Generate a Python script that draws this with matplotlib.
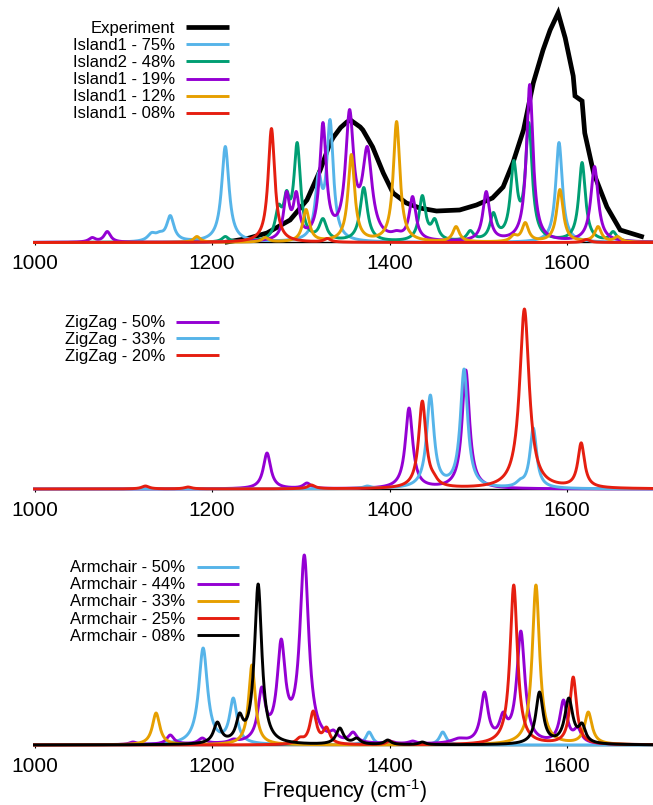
import numpy as np
import matplotlib
matplotlib.use("Agg")
import matplotlib.pyplot as plt
from matplotlib.lines import Line2D

plt.rcParams['font.family'] = ['Liberation Sans', 'DejaVu Sans']
plt.rcParams['mathtext.fontset'] = 'custom'
plt.rcParams['mathtext.rm'] = 'Liberation Sans'
plt.rcParams['mathtext.it'] = 'Liberation Sans:italic'
plt.rcParams['mathtext.bf'] = 'Liberation Sans:bold'

# ---------------- data ----------------
# Experiment spectrum (frequency, intensity)
exp_freq = [1217, 1240, 1262, 1288, 1307, 1322, 1333, 1337, 1345, 1352, 1356, 1367, 1370,
            1381, 1393, 1404, 1419, 1434, 1453, 1479, 1498, 1516, 1528, 1539, 1551, 1562,
            1573, 1581, 1590, 1598, 1607, 1609, 1617, 1620, 1630, 1645, 1660, 1684]
exp_int = [0.5, 4, 9.5, 22.5, 42.5, 72.5, 99.5, 105.5, 115, 120.5, 122.5, 115.5, 112.5,
           95.5, 69.5, 49.5, 39.5, 34.5, 31.5, 32.5, 37.5, 44.5, 55.5, 79.5, 112.5, 159.5,
           192.5, 212.5, 229.5, 204.5, 166.5, 146.5, 141.5, 109.5, 69.5, 35.5, 12.5, 6]

# Panel 1 peaks: centers, observed heights, widths (FWHM)
isl1_75_c = [1132, 1141, 1153, 1215, 1320, 1333, 1591]
isl1_75_h = [10, 11, 27, 96, 70, 123, 100]
isl1_75_w = [11, 11, 10, 10, 9, 9, 9]

isl2_48_c = [1215, 1275, 1284, 1296, 1325, 1371, 1437, 1451, 1491, 1517, 1540, 1557, 1617, 1652]
isl2_48_h = [6, 38, 52, 100, 24, 55, 47, 24, 12, 30, 82, 120, 80, 11]
isl2_48_w = [9, 9, 8, 9, 10, 10, 9, 9, 9, 9, 9, 9, 9, 9]

isl1_19_c = [1065, 1082, 1284, 1295, 1325, 1355, 1375, 1408, 1426, 1509, 1558, 1631]
isl1_19_h = [5, 11, 51, 51, 120, 133, 96, 12, 46, 51, 158, 76]
isl1_19_w = [9, 9, 8, 8, 9, 11, 13, 13, 9, 9, 9, 10]

isl1_12_c = [1183, 1260, 1306, 1357, 1408, 1475, 1540, 1553, 1592, 1635, 1657]
isl1_12_h = [6, 5, 33, 88, 121, 16, 8, 20, 53, 16, 6]
isl1_12_w = [9, 9, 9, 9, 9, 9, 9, 9, 9, 9, 9]

isl1_08_c = [1267, 1330, 1622]
isl1_08_h = [114, 4, 3]
isl1_08_w = [9, 9, 9]

# Panel 2 peaks
zz50_c = [1262, 1307, 1422, 1486]
zz50_h = [36, 6, 81, 119]
zz50_w = [10, 10, 10, 10]

zz33_c = [1375, 1446, 1484, 1547, 1562]
zz33_h = [3, 94, 120, 10, 61]
zz33_w = [10, 10, 10, 10, 9]

zz20_c = [1125, 1173, 1312, 1437, 1450, 1552, 1616, 1626]
zz20_h = [3, 2, 4, 88, 16, 180, 46, 8]
zz20_w = [10, 10, 10, 10, 10, 13, 9, 10]

# Panel 3 peaks
ac50_c = [1190, 1224, 1377, 1460]
ac50_h = [97, 47, 13, 13]
ac50_w = [12, 10, 9, 9]

ac44_c = [1111, 1153, 1189, 1224, 1256, 1278, 1304, 1337, 1359, 1400, 1426, 1478, 1507, 1528, 1548, 1596, 1612]
ac44_h = [3, 10, 7, 6, 58, 106, 190, 15, 13, 4, 4, 7, 53, 33, 114, 45, 18]
ac44_w = [10, 10, 10, 10, 10, 11, 12, 10, 10, 10, 10, 20, 10, 10, 11, 10, 10]

ac33_c = [1137, 1245, 1565, 1624]
ac33_h = [32, 80, 160, 33]
ac33_w = [10, 9, 10, 10]

ac25_c = [1299, 1314, 1329, 1400, 1540, 1607]
ac25_h = [8, 34, 18, 4, 160, 68]
ac25_w = [10, 9, 9, 9, 10, 9]

ac08_c = [1206, 1231, 1252, 1344, 1363, 1398, 1437, 1569, 1602, 1617]
ac08_h = [23, 32, 161, 17, 7, 5, 3, 53, 47, 22]
ac08_w = [10, 9, 10, 10, 10, 9, 9, 10, 11, 9]

labels1 = ["Experiment", "Island1 - 75%", "Island2 - 48%", "Island1 - 19%", "Island1 - 12%", "Island1 - 08%"]
labels2 = ["ZigZag - 50%", "ZigZag - 33%", "ZigZag - 20%"]
labels3 = ["Armchair - 50%", "Armchair - 44%", "Armchair - 33%", "Armchair - 25%", "Armchair - 08%"]
xticks = [1000, 1200, 1400, 1600]

# ---------------- styles ----------------
BLUE, GREEN, PURPLE, ORANGE, RED, BLACK = "#56b4e9", "#009e73", "#9400d3", "#e69f00", "#e51e10", "#000000"
LW = 2.1
EXP_LW = 3.4
W, H = 653, 805


def lor(x, c, w):
    g = w / 2.0
    return 1.0 / (1.0 + ((x - c) / g) ** 2)


def spectrum(x, cs, hs, ws):
    cs = np.asarray(cs, float); hs = np.asarray(hs, float); ws = np.asarray(ws, float)
    A = lor(cs[:, None], cs[None, :], ws[None, :])
    amps = np.linalg.solve(A, hs)
    amps = np.clip(amps, 0, None)
    return (amps[None, :] * lor(x[:, None], cs[None, :], ws[None, :])).sum(axis=1)


x = np.linspace(1000, 1700, 2801)

fig = plt.figure(figsize=(W / 100, H / 100), dpi=100)


def make_ax(base_px, height_px):
    left = 34.5 / W
    width = (655.75 - 34.5) / W
    ax = fig.add_axes([left, (H - base_px) / H, width, height_px / H])
    ax.set_xlim(1000, 1700)
    ax.set_ylim(0, height_px)
    for s in ["left", "right", "top"]:
        ax.spines[s].set_visible(False)
    ax.spines["bottom"].set_linewidth(1.0)
    ax.spines["bottom"].set_zorder(1)
    ax.set_yticks([])
    ax.set_xticks(xticks)
    ax.tick_params(axis="x", direction="out", length=2.5, width=0.8, labelsize=15, pad=6)
    return ax


def legend(labels, colors, lws, text_right, y0, x0, x1, dy=17.1):
    for i, (lab, col, lw) in enumerate(zip(labels, colors, lws)):
        yy = y0 + i * dy
        fig.text(text_right / W, 1 - (yy + 1) / H, lab, ha="right", va="center", fontsize=12)
        fig.add_artist(Line2D([x0 / W, x1 / W], [1 - yy / H, 1 - yy / H], color=col, lw=lw,
                              solid_capstyle="butt"))


# Panel 1
ax1 = make_ax(242.5, 236)
ax1.plot(exp_freq, exp_int, color=BLACK, lw=EXP_LW, clip_on=False, solid_joinstyle="miter")
for cs, hs, ws, col in [(isl1_75_c, isl1_75_h, isl1_75_w, BLUE),
                        (isl2_48_c, isl2_48_h, isl2_48_w, GREEN),
                        (isl1_19_c, isl1_19_h, isl1_19_w, PURPLE),
                        (isl1_12_c, isl1_12_h, isl1_12_w, ORANGE),
                        (isl1_08_c, isl1_08_h, isl1_08_w, RED)]:
    ax1.plot(x, spectrum(x, cs, hs, ws), color=col, lw=LW, clip_on=False)
legend(labels1, [BLACK, BLUE, GREEN, PURPLE, ORANGE, RED], [EXP_LW] + [LW] * 5, 175, 27.3, 186, 229)

# Panel 2
ax2 = make_ax(489, 200)
for cs, hs, ws, col in [(zz50_c, zz50_h, zz50_w, PURPLE),
                        (zz33_c, zz33_h, zz33_w, BLUE),
                        (zz20_c, zz20_h, zz20_w, RED)]:
    ax2.plot(x, spectrum(x, cs, hs, ws), color=col, lw=LW, clip_on=False)
legend(labels2, [PURPLE, BLUE, RED], [LW] * 3, 165, 321.7, 176, 219, dy=16.7)

# Panel 3
ax3 = make_ax(745, 200)
for cs, hs, ws, col in [(ac50_c, ac50_h, ac50_w, BLUE),
                        (ac44_c, ac44_h, ac44_w, PURPLE),
                        (ac33_c, ac33_h, ac33_w, ORANGE),
                        (ac25_c, ac25_h, ac25_w, RED),
                        (ac08_c, ac08_h, ac08_w, BLACK)]:
    ax3.plot(x, spectrum(x, cs, hs, ws), color=col, lw=LW, clip_on=False)
legend(labels3, [BLUE, PURPLE, ORANGE, RED, BLACK], [LW] * 5, 185, 566.7, 197, 239)

fig.text(345 / W, 1 - 797.5 / H, r"Frequency (cm$^{\text{-1}}$)", ha="center", va="baseline", fontsize=15.5)

fig.savefig("out.png", dpi=100)
